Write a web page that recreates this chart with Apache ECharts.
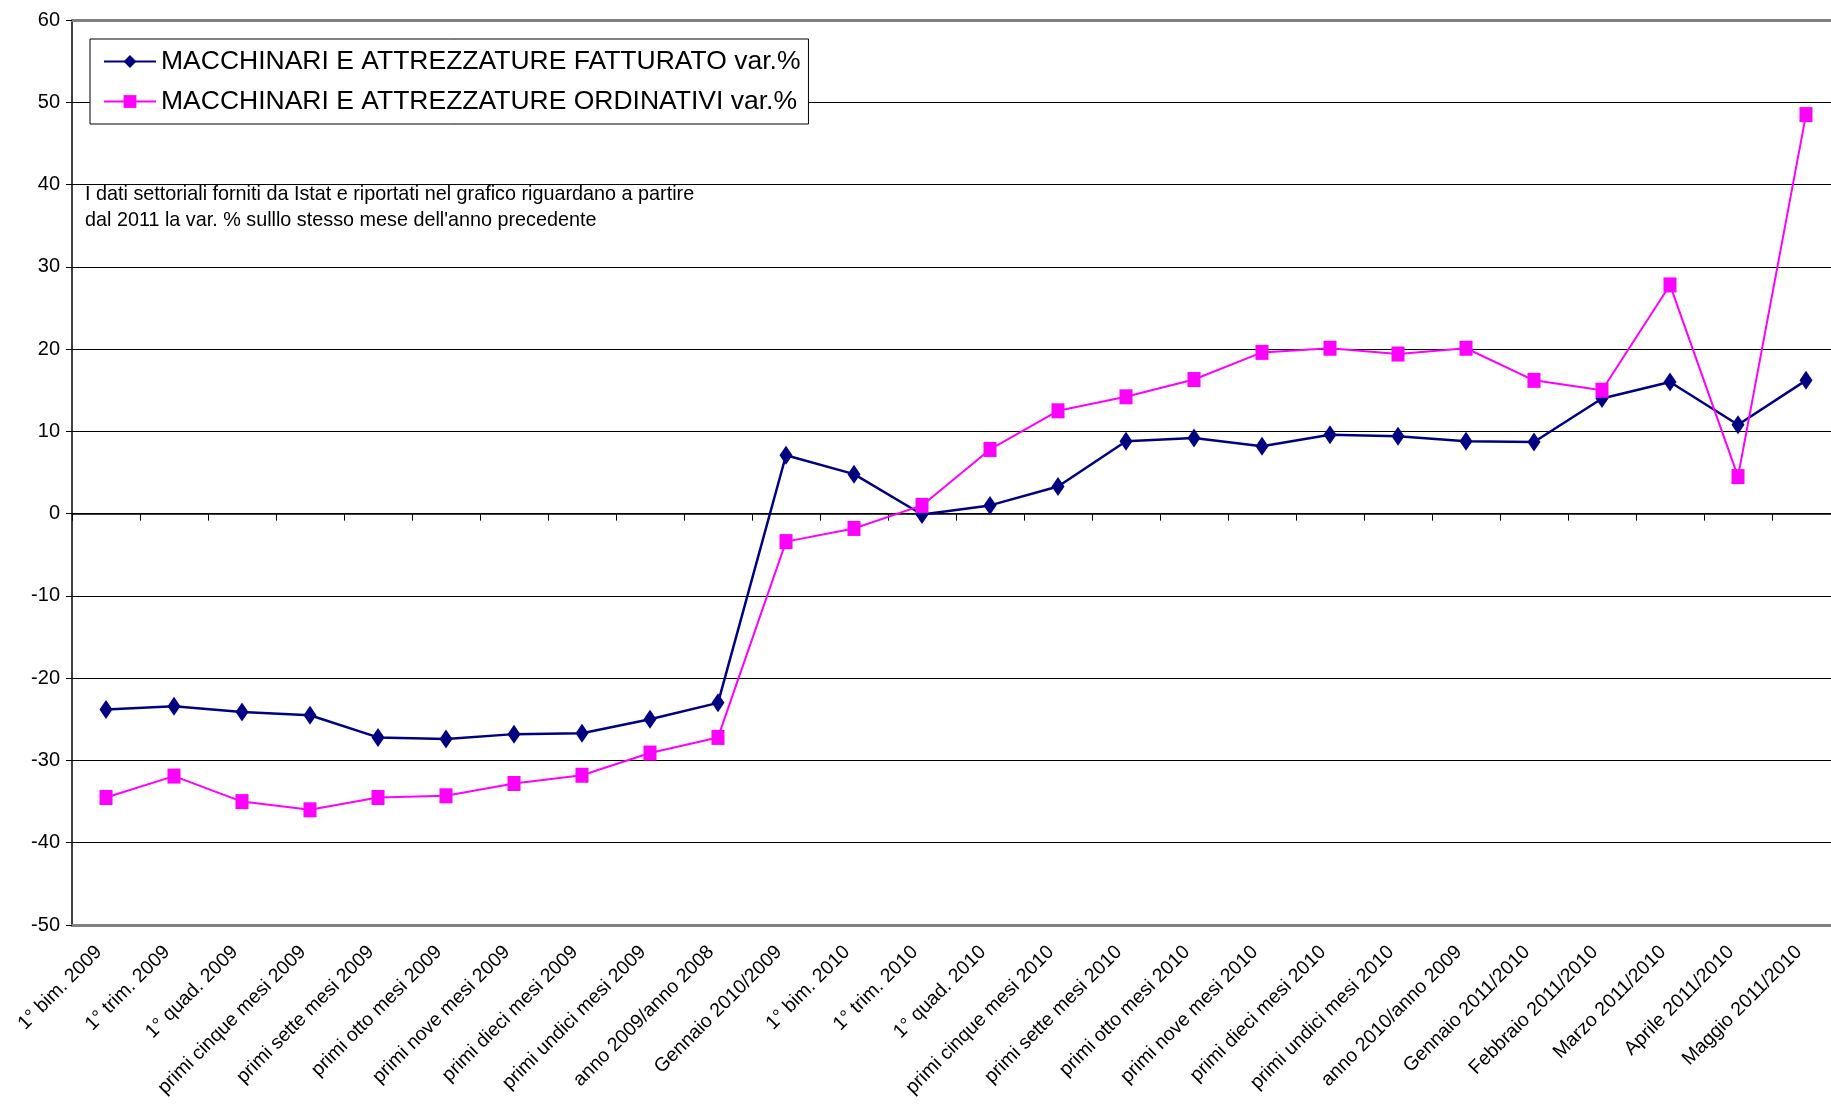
<!DOCTYPE html>
<html>
<head>
<meta charset="utf-8">
<style>
  html, body { margin: 0; padding: 0; background: #fff; }
  #container { width: 1831px; height: 1107px; }
</style>
<script src="https://cdn.jsdelivr.net/npm/echarts@6/dist/echarts.min.js"></script>
</head>
<body>
<div id="container"></div>
<script>
var categories = [
  '1° bim. 2009', '1° trim. 2009', '1° quad. 2009', 'primi cinque mesi 2009',
  'primi sette mesi 2009', 'primi otto mesi 2009', 'primi nove mesi 2009',
  'primi dieci mesi 2009', 'primi undici mesi 2009', 'anno 2009/anno 2008',
  'Gennaio 2010/2009', '1° bim. 2010', '1° trim. 2010', '1° quad. 2010',
  'primi cinque mesi 2010', 'primi sette mesi 2010', 'primi otto mesi 2010',
  'primi nove mesi 2010', 'primi dieci mesi 2010', 'primi undici mesi 2010',
  'anno 2010/anno 2009', 'Gennaio 2011/2010', 'Febbraio 2011/2010',
  'Marzo 2011/2010', 'Aprile 2011/2010', 'Maggio 2011/2010'
];

var fatturato = [
  -23.8, -23.4, -24.1, -24.5, -27.2, -27.4, -26.8, -26.7, -25.0, -23.0,
  7.1, 4.8, -0.1, 1.0, 3.3, 8.8, 9.2, 8.2, 9.6, 9.4,
  8.8, 8.7, 14.0, 16.0, 10.8, 16.2
];

var ordinativi = [
  -34.5, -31.9, -35.0, -36.0, -34.5, -34.3, -32.8, -31.8, -29.1, -27.2,
  -3.4, -1.8, 1.0, 7.8, 12.5, 14.2, 16.3, 19.6, 20.1, 19.4,
  20.1, 16.2, 15.0, 27.8, 4.5, 48.5
];

var seriesNames = [
  'MACCHINARI E ATTREZZATURE FATTURATO var.%',
  'MACCHINARI E ATTREZZATURE ORDINATIVI var.%'
];

var noteLines = [
  'I dati settoriali forniti da Istat e riportati nel grafico riguardano a partire',
  "dal 2011 la var. % sulllo stesso mese dell'anno precedente"
];

var FONT = 'Liberation Sans, Arial, sans-serif';

var myChart = echarts.init(document.getElementById('container'), null, { renderer: 'canvas' });

var option = {
  animation: false,
  backgroundColor: '#ffffff',
  textStyle: { fontFamily: FONT },
  grid: { left: 72, width: 1768, top: 20, bottom: 182, containLabel: false, outerBoundsMode: 'none' },
  legend: {
    orient: 'vertical',
    left: 90,
    top: 39,
    padding: [9, 8, 9, 13],
    itemGap: 13,
    itemWidth: 52,
    itemHeight: 16,
    borderColor: '#000',
    borderWidth: 1,
    borderRadius: 0,
    backgroundColor: '#fff',
    textStyle: { fontSize: 26.5, color: '#000', fontFamily: FONT },
    data: seriesNames
  },
  graphic: [{
    type: 'text',
    left: 85,
    top: 182,
    z: 10,
    style: {
      text: noteLines.join('\n'),
      font: '19.8px ' + FONT,
      lineHeight: 26,
      fill: '#000'
    }
  }],
  xAxis: [
    {
      type: 'category',
      data: categories,
      boundaryGap: true,
      position: 'bottom',
      axisLine: { onZero: true, lineStyle: { color: '#000', width: 1.5 } },
      axisTick: { show: true, interval: 0, length: 7, lineStyle: { color: '#000' } },
      axisLabel: { show: false },
      splitLine: { show: false }
    },
    {
      type: 'category',
      data: categories,
      boundaryGap: true,
      position: 'bottom',
      axisLine: { onZero: false, lineStyle: { color: '#808080', width: 3 } },
      axisTick: { show: false },
      axisLabel: {
        interval: 0,
        rotate: 45,
        margin: 17,
        padding: [0, 10, 0, 0],
        fontSize: 19.5,
        color: '#000',
        fontFamily: FONT
      },
      splitLine: { show: false }
    },
    {
      type: 'category',
      data: categories,
      position: 'top',
      axisLine: { onZero: false, lineStyle: { color: '#808080', width: 3 } },
      axisTick: { show: false },
      axisLabel: { show: false }
    }
  ],
  yAxis: {
    type: 'value',
    min: -50,
    max: 60,
    interval: 10,
    axisLine: { show: true, lineStyle: { color: '#000', width: 1.5 } },
    axisTick: { show: true, length: 6, lineStyle: { color: '#000' } },
    axisLabel: { fontSize: 20, color: '#000', margin: 12, fontFamily: FONT },
    splitLine: { show: true, lineStyle: { color: '#000', width: 1 } }
  },
  series: [
    {
      name: seriesNames[0],
      type: 'line',
      xAxisIndex: 0,
      data: fatturato,
      symbol: 'diamond',
      symbolSize: [13, 19],
      color: '#000080',
      lineStyle: { color: '#000080', width: 2.5 },
      itemStyle: { color: '#000080' },
      z: 3
    },
    {
      name: seriesNames[1],
      type: 'line',
      xAxisIndex: 0,
      data: ordinativi,
      symbol: 'rect',
      symbolSize: [13, 15],
      color: '#ff00ff',
      lineStyle: { color: '#ff00ff', width: 2 },
      itemStyle: { color: '#ff00ff' },
      z: 4
    }
  ]
};

myChart.setOption(option);
window.addEventListener('resize', myChart.resize);
</script>
</body>
</html>
